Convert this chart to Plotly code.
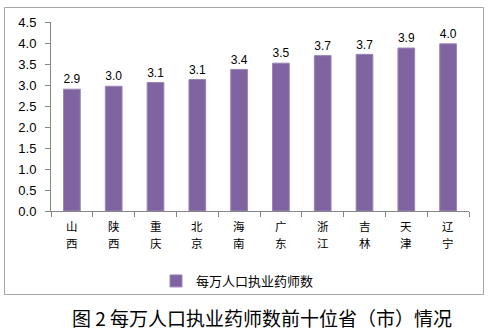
import plotly.graph_objects as go

# Top ten provinces (municipalities) by licensed pharmacists per 10,000 people
provinces = ["山西", "陕西", "重庆", "北京", "海南",
             "广东", "浙江", "吉林", "天津", "辽宁"]
pharmacists_per_10k = [2.90, 2.97, 3.06, 3.13, 3.37, 3.52, 3.70, 3.73, 3.88, 3.98]
y_ticks = [0.0, 0.5, 1.0, 1.5, 2.0, 2.5, 3.0, 3.5, 4.0, 4.5]

series_name = "每万人口执业药师数"
caption = "图 2 每万人口执业药师数前十位省（市）情况"

W, H = 491, 332
ml, mr, mt, mb = 51, 22, 22, 121
pw, ph = W - ml - mr, H - mt - mb

def px_x(x):
    return (x - ml) / pw

def px_y(y):
    return (H - mb - y) / ph

cjk = "Noto Sans CJK SC, sans-serif"
latin = "Liberation Sans, Arial, sans-serif"

fig = go.Figure()
fig.add_trace(go.Bar(
    x=provinces,
    y=pharmacists_per_10k,
    name=series_name,
    marker=dict(color="#8064A2", line=dict(color="#9a86b6", width=1)),
    text=pharmacists_per_10k,
    texttemplate="%{text:.1f}",
    textposition="outside",
    textfont=dict(family=latin, size=13, color="#000000"),
    cliponaxis=False,
    showlegend=True,
))

# Category names are written vertically, one character per row
annotations = []
for name in provinces:
    for row, ch in enumerate(name):
        annotations.append(dict(
            text=ch, xref="x", yref="paper",
            x=name, y=px_y(225.5 + 17 * row),
            xanchor="center", yanchor="middle", showarrow=False,
            font=dict(family=cjk, size=11.5, color="#000000"),
        ))

annotations.append(dict(
    text=caption, xref="paper", yref="paper",
    x=px_x(262), y=px_y(317), xanchor="center", yanchor="middle",
    showarrow=False,
    font=dict(family=cjk, size=19, color="#000000"),
))

fig.update_layout(
    width=W, height=H,
    margin=dict(l=ml, r=mr, t=mt, b=mb),
    paper_bgcolor="white",
    plot_bgcolor="white",
    bargap=0.6,
    font=dict(family=cjk, color="#000000"),
    showlegend=True,
    legend=dict(
        orientation="h",
        x=px_x(156), xanchor="left",
        y=px_y(281), yanchor="middle",
        font=dict(family=cjk, size=13, color="#000000"),
        itemwidth=30,
        bgcolor="rgba(0,0,0,0)",
    ),
    xaxis=dict(
        showline=True, linecolor="#868686", linewidth=1,
        ticks="outside", tickson="boundaries", ticklen=5, tickcolor="#868686",
        showticklabels=False,
        showgrid=False,
        fixedrange=True,
    ),
    yaxis=dict(
        range=[0, 4.5],
        tickvals=y_ticks,
        tickformat=".1f",
        showline=True, linecolor="#868686", linewidth=1,
        ticks="outside", ticklen=5, tickcolor="#868686",
        ticklabelstandoff=6,
        tickfont=dict(family=latin, size=13, color="#000000"),
        showgrid=False,
        zeroline=False,
        fixedrange=True,
    ),
    shapes=[dict(
        type="rect", xref="paper", yref="paper",
        x0=px_x(4.5), x1=px_x(483.5), y0=px_y(294.5), y1=px_y(7.5),
        line=dict(color="#a6a6a6", width=1), fillcolor="rgba(0,0,0,0)",
        layer="below",
    )],
    annotations=annotations,
)

fig.write_html("out.html")
